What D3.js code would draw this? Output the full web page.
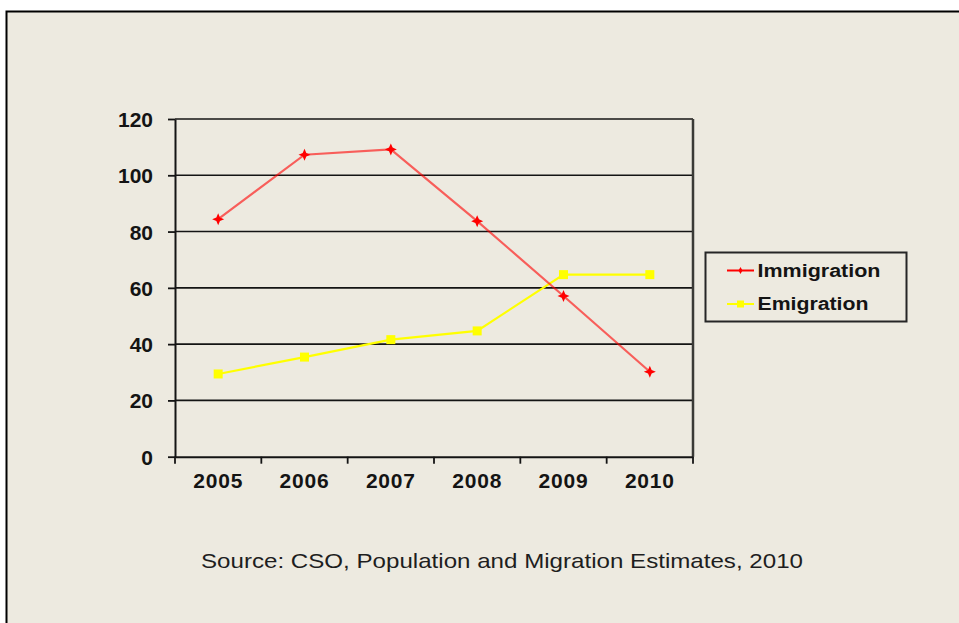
<!DOCTYPE html>
<html>
<head>
<meta charset="utf-8">
<script src="https://cdn.jsdelivr.net/npm/d3@7"></script>
<style>
  html, body { margin: 0; padding: 0; background: #ffffff; }
  svg { display: block; }
  text { font-family: "Liberation Sans", Arial, sans-serif; }
</style>
</head>
<body>
<svg id="chart" width="959" height="623"></svg>
<script>
// Migration flows (thousands), CSO estimates
const years = ["2005", "2006", "2007", "2008", "2009", "2010"];
const immigration = [84.4, 107.3, 109.2, 83.7, 57.1, 30.2];
const emigration = [29.4, 35.4, 41.6, 44.7, 64.7, 64.7];
const yTicks = [0, 20, 40, 60, 80, 100, 120];
const seriesNames = ["Immigration", "Emigration"];
const sourceNote = "Source: CSO, Population and Migration Estimates, 2010";

const svg = d3.select("#chart");
const bg = "#edeae0";
const ink = "#141414";

// framed panel
svg.append("rect")
  .attr("x", 6.5).attr("y", 11.5)
  .attr("width", 980).attr("height", 640)
  .attr("fill", bg).attr("stroke", "#000").attr("stroke-width", 2);

const plot = { left: 175, right: 693, top: 119, bottom: 456.7 };

const x = d3.scaleBand().domain(years).range([plot.left, plot.right]);
const y = d3.scaleLinear().domain([0, 120]).range([plot.bottom, plot.top]);

// horizontal gridlines
svg.append("g")
  .selectAll("line")
  .data(yTicks.filter(d => d > 0))
  .join("line")
  .attr("x1", plot.left).attr("x2", plot.right)
  .attr("y1", d => y(d)).attr("y2", d => y(d))
  .attr("stroke", ink).attr("stroke-width", 1.6);

// right frame of plot area
svg.append("line")
  .attr("x1", plot.right).attr("x2", plot.right)
  .attr("y1", plot.top).attr("y2", plot.bottom)
  .attr("stroke", "#3a3a36").attr("stroke-width", 2.5);

// y axis
const yAxis = svg.append("g")
  .attr("transform", `translate(${plot.left},0)`)
  .call(d3.axisLeft(y).tickValues(yTicks).tickSize(7).tickSizeOuter(0).tickPadding(15));
yAxis.select(".domain").attr("stroke", ink).attr("stroke-width", 2);
yAxis.selectAll(".tick line").attr("stroke", ink).attr("stroke-width", 1.8);
yAxis.selectAll(".tick text")
  .attr("font-family", "Liberation Sans, Arial, sans-serif")
  .attr("font-size", 21).attr("font-weight", "bold").attr("fill", ink)
  .attr("dy", "0.36em");

// x axis: labels centered in bands, ticks on band boundaries
const xAxis = svg.append("g")
  .attr("transform", `translate(0,${plot.bottom})`)
  .call(d3.axisBottom(x).tickSize(0).tickSizeOuter(0).tickPadding(16));
xAxis.select(".domain").attr("stroke", ink).attr("stroke-width", 2);
xAxis.selectAll(".tick text")
  .attr("font-family", "Liberation Sans, Arial, sans-serif")
  .attr("font-size", 21).attr("font-weight", "bold").attr("fill", ink)
  .attr("letter-spacing", 0.8);
const bounds = years.map(d => x(d)).concat([x(years[years.length - 1]) + x.bandwidth()]);
svg.append("g")
  .selectAll("line")
  .data(bounds)
  .join("line")
  .attr("x1", d => d).attr("x2", d => d)
  .attr("y1", plot.bottom).attr("y2", plot.bottom + 7)
  .attr("stroke", ink).attr("stroke-width", 1.8);

const cx = d => x(d) + x.bandwidth() / 2;
const starPath = "M0,-6L1.8,-1.8L6,0L1.8,1.8L0,6L-1.8,1.8L-6,0L-1.8,-1.8Z";

const lineGen = d3.line().x(d => cx(d.year)).y(d => y(d.value));

function draw(values, color, opacity, marker) {
  const data = years.map((yr, i) => ({ year: yr, value: values[i] }));
  svg.append("path")
    .datum(data)
    .attr("d", lineGen)
    .attr("fill", "none")
    .attr("stroke", color).attr("stroke-opacity", opacity)
    .attr("stroke-width", 2.2);
  const g = svg.append("g");
  if (marker === "star") {
    g.selectAll("path").data(data).join("path")
      .attr("d", starPath)
      .attr("transform", d => `translate(${cx(d.year)},${y(d.value)})`)
      .attr("fill", color);
  } else {
    g.selectAll("rect").data(data).join("rect")
      .attr("x", d => cx(d.year) - 4.5).attr("y", d => y(d.value) - 4.5)
      .attr("width", 9).attr("height", 9)
      .attr("fill", color);
  }
}

draw(emigration, "#ffff00", 1, "square");
draw(immigration, "#ff0000", 0.6, "star");

// legend
const legend = svg.append("g");
legend.append("rect")
  .attr("x", 705.5).attr("y", 252.5).attr("width", 201).attr("height", 69)
  .attr("fill", bg).attr("stroke", "#262626").attr("stroke-width", 2);
const legendItems = [
  { name: seriesNames[0], color: "#ff0000", marker: "star", ty: 270.5, w: 123 },
  { name: seriesNames[1], color: "#ffff00", marker: "square", ty: 304, w: 111 }
];
legendItems.forEach(it => {
  legend.append("line")
    .attr("x1", 727).attr("x2", 754).attr("y1", it.ty).attr("y2", it.ty)
    .attr("stroke", it.color).attr("stroke-width", 2);
  if (it.marker === "star") {
    legend.append("path").attr("d", d3.symbol(d3.symbolDiamond, 14)())
      .attr("transform", `translate(740.5,${it.ty})`).attr("fill", it.color);
  } else {
    legend.append("rect").attr("x", 737).attr("y", it.ty - 3.5)
      .attr("width", 7).attr("height", 7).attr("fill", it.color);
  }
  legend.append("text")
    .attr("x", 757.5).attr("y", it.ty + 6)
    .attr("font-size", 17.5).attr("font-weight", "bold").attr("fill", ink)
    .attr("textLength", it.w).attr("lengthAdjust", "spacingAndGlyphs")
    .text(it.name);
});

// source note
svg.append("text")
  .attr("x", 201).attr("y", 568)
  .attr("font-size", 21).attr("fill", "#1e1e1e")
  .attr("textLength", 602).attr("lengthAdjust", "spacingAndGlyphs")
  .text(sourceNote);
</script>
</body>
</html>
